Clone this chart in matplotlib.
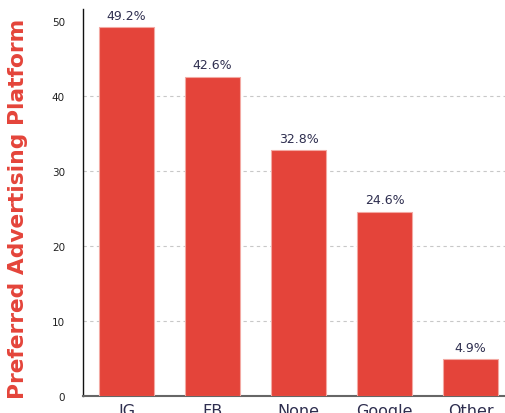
import matplotlib
matplotlib.use("Agg")
import matplotlib.pyplot as plt

categories = ["IG", "FB", "None", "Google", "Other"]
values = [49.2, 42.6, 32.8, 24.6, 4.9]
labels = ["49.2%", "42.6%", "32.8%", "24.6%", "4.9%"]
yticks = [0, 10, 20, 30, 40, 50]

plt.rcParams['font.family'] = ['DejaVu Sans']

fig = plt.figure(figsize=(5.05, 4.14), dpi=100)
ax = fig.add_axes([83/505, 1-397/414, (513.5-83)/505, (397-10)/414])

x = range(len(categories))
ax.bar(x, values, width=0.64, color="#E4443A", edgecolor="#F3A9A3", linewidth=0.8, zorder=3)
for xi, v, lab in zip(x, values, labels):
    ax.text(xi, v + 0.7, lab, ha="center", va="bottom", fontsize=9, color="#2E2E4F")

ax.set_xlim(-0.506, 4.5)
ax.set_ylim(0, 51.6)
ax.set_yticks(yticks)
ax.set_yticklabels([str(t) for t in yticks], fontsize=7.5, color="#222222")
ax.set_xticks(list(x))
ax.set_xticklabels(categories, fontsize=11.5, color="#2E2E4F")
ax.tick_params(axis="x", length=0, pad=5)
ax.tick_params(axis="y", length=0, pad=13)

for g in [10, 20, 30, 40]:
    ax.axhline(g, color="#C8C8C8", linestyle=(0, (3, 3)), linewidth=0.8, zorder=1)

for s in ["top", "right"]:
    ax.spines[s].set_visible(False)
ax.spines["left"].set_color("#111111")
ax.spines["left"].set_linewidth(1.0)
ax.spines["bottom"].set_color("#666666")
ax.spines["bottom"].set_linewidth(1.5)

fig.text(18/505, 1-209/414, "Preferred Advertising Platform", rotation=90, ha="center", va="center",
         fontsize=15.7, fontweight="bold", color="#E4443A")

fig.savefig("out.png", dpi=100)
